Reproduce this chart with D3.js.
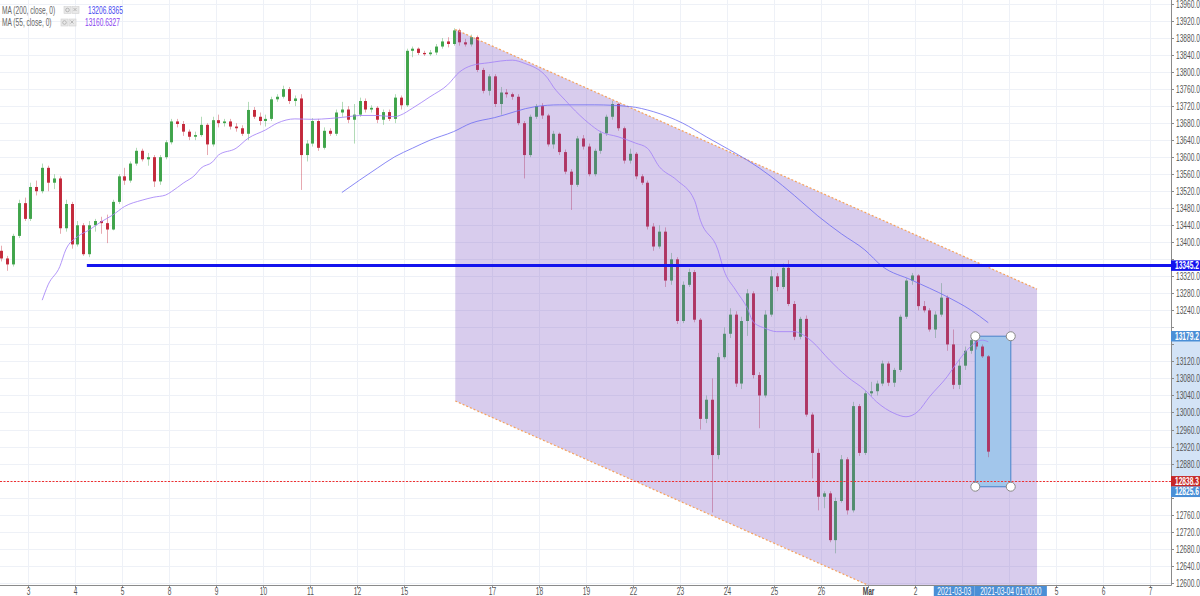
<!DOCTYPE html>
<html><head><meta charset="utf-8">
<script src="https://cdn.jsdelivr.net/npm/d3@7"></script>
<style>body{margin:0;background:#fff;overflow:hidden}svg{display:block}</style>
</head><body><svg id="c" width="1200" height="596"></svg>
<script>
// ---------- DATA ----------
// bar slots: 8 bars per trading session (3h bars); slot 0 = Feb 3 session start
const firstSlot = -5;
const bars = [ // [open, high, low, close]
[13380,13392,13355,13362],[13362,13368,13333,13348],[13348,13420,13343,13415],[13415,13500,13410,13492],[13492,13505,13450,13455],
[13455,13540,13450,13530],[13530,13545,13510,13520],[13520,13585,13515,13575],[13575,13580,13520,13540],[13540,13560,13525,13550],
[13550,13555,13420,13433],[13433,13500,13425,13490],[13490,13495,13385,13395],[13395,13450,13390,13440],[13440,13445,13368,13372],
[13372,13450,13365,13440],[13440,13455,13425,13450],[13450,13460,13420,13445],[13445,13465,13398,13430],[13430,13500,13428,13495],
[13495,13560,13490,13555],[13555,13575,13535,13545],[13545,13590,13540,13585],[13585,13622,13580,13615],[13615,13620,13590,13595],
[13595,13610,13580,13600],[13600,13605,13530,13543],[13543,13605,13535,13600],[13600,13640,13595,13635],[13635,13690,13630,13684],
[13684,13690,13670,13678],[13678,13685,13650,13660],[13660,13665,13640,13648],[13648,13660,13640,13652],[13652,13695,13648,13676],
[13676,13680,13605,13630],[13630,13695,13625,13687],[13687,13700,13670,13680],[13680,13690,13672,13684],[13684,13690,13665,13672],
[13672,13680,13660,13668],[13668,13675,13650,13655],[13655,13730,13640,13711],[13711,13718,13690,13695],[13695,13705,13675,13685],
[13685,13700,13672,13690],[13690,13742,13685,13736],[13736,13748,13730,13742],[13742,13768,13738,13760],[13760,13765,13725,13732],
[13732,13745,13720,13738],[13738,13748,13523,13605],[13605,13640,13590,13632],[13632,13692,13625,13685],[13685,13690,13615,13622],
[13622,13670,13618,13662],[13662,13668,13650,13655],[13655,13712,13650,13705],[13705,13730,13695,13712],[13712,13720,13680,13688],
[13688,13725,13632,13700],[13700,13740,13695,13732],[13732,13738,13705,13712],[13712,13722,13705,13716],[13716,13720,13680,13688],
[13688,13712,13676,13706],[13706,13712,13685,13690],[13690,13748,13680,13740],[13740,13745,13712,13722],[13722,13855,13718,13850],
[13850,13860,13835,13855],[13855,13858,13840,13845],[13845,13850,13838,13842],[13842,13852,13838,13846],[13846,13866,13840,13860],
[13860,13880,13855,13872],[13872,13882,13858,13866],[13866,13903,13862,13898],[13898,13902,13862,13870],[13870,13878,13860,13865],
[13865,13888,13860,13882],[13882,13886,13800,13805],[13805,13810,13750,13756],[13756,13795,13745,13790],[13790,13795,13718,13725],
[13725,13765,13700,13752],[13752,13760,13740,13748],[13748,13752,13735,13742],[13742,13748,13675,13680],[13680,13685,13550,13605],
[13605,13700,13600,13695],[13695,13725,13690,13720],[13720,13727,13690,13698],[13698,13702,13625,13630],[13630,13662,13620,13655],
[13655,13658,13605,13612],[13612,13618,13560,13566],[13566,13572,13476,13535],[13535,13650,13530,13644],[13644,13652,13618,13625],
[13625,13632,13555,13560],[13560,13620,13555,13615],[13615,13662,13608,13656],[13656,13700,13650,13695],[13695,13732,13688,13725],
[13725,13728,13662,13668],[13668,13672,13585,13592],[13592,13620,13585,13608],[13608,13612,13548,13555],[13555,13560,13535,13540],
[13540,13545,13430,13437],[13437,13445,13380,13390],[13390,13440,13385,13425],[13425,13435,13295,13310],[13310,13375,13300,13360],
[13360,13365,13208,13215],[13215,13308,13210,13300],[13300,13338,13295,13330],[13330,13335,13212,13218],[13218,13222,12960,12985],
[12985,13040,12975,13030],[13030,13080,12765,12900],[12900,13140,12890,13130],[13130,13200,13125,13185],[13185,13245,13175,13230],
[13230,13238,13060,13068],[13068,13225,13055,13215],[13215,13290,13180,13280],[13280,13285,13080,13088],[13088,13095,12963,13040],
[13040,13240,13035,13230],[13230,13335,13225,13320],[13320,13328,13285,13295],[13295,13350,13290,13340],[13340,13358,13250,13255],
[13255,13262,13170,13178],[13178,13225,13172,13220],[13220,13228,12990,12995],[12995,13000,12845,12905],[12905,12915,12770,12802],
[12802,12815,12775,12810],[12810,12815,12695,12700],[12700,12800,12669,12792],[12792,12900,12788,12890],[12890,12895,12760,12770],
[12770,13025,12765,13015],[13015,13020,12898,12905],[12905,13050,12900,13045],[13045,13072,13038,13050],[13050,13075,13040,13068],
[13068,13122,13062,13115],[13115,13120,13062,13070],[13070,13105,13060,13100],[13100,13230,13095,13225],[13225,13315,13220,13310],
[13310,13328,13300,13322],[13322,13325,13240,13250],[13250,13262,13235,13240],[13240,13245,13190,13195],[13195,13238,13175,13230],
[13230,13304,13225,13270],[13270,13275,13145,13160],[13160,13195,13055,13065],[13065,13125,13055,13110],[13110,13155,13100,13145],
[13145,13176,13138,13170],[13170,13179.2,13148,13155],[13155,13160,13128,13132],[13132,13135,12895,12908]
];
const ma55 = [[2,13264],[3,13300],[5,13343],[6,13382],[8,13413],[10,13429],[12,13448],[14,13464],[16,13484],[19,13499],[21,13506],
[23,13511],[24,13519],[26,13539],[28,13558],[29,13574],[31,13589],[32,13605],[35,13621],[37,13644],[40,13664],[42,13680],[45,13690],
[48,13689],[51,13691],[54,13695],[56,13698],[59,13698],[62,13695],[63,13699],[65,13715],[68,13742],[71,13770],[73,13800],[75,13815],
[78,13822],[82,13828],[84,13821],[88,13786],[89,13765],[91,13734],[92,13719],[95,13680],[97,13660],[100,13648],[103,13633],[105,13621],
[107,13578],[110,13546],[113,13499],[114,13452],[117,13382],[118,13335],[120,13288],[122,13245],[123,13213],[125,13198],[127,13190],
[130,13190],[131,13186],[133,13167],[136,13123],[139,13084],[142,13053],[144,13025],[147,12998],[149,12990],[151,13002],[153,13037],
[156,13084],[158,13123],[160,13155],[162,13170],[163,13166]];
const ma200 = [[53,13517],[56,13546],[59,13574],[62,13601],[65,13621],[68,13640],[72,13660],[75,13680],[79,13693],[86,13719],[90,13723],
[96,13723],[102,13719],[106,13707],[111,13680],[115,13648],[119,13617],[122,13593],[126,13555],[130,13510],[134,13462],[138,13420],
[142,13382],[145,13343],[150,13311],[156,13272],[160,13241],[163,13211]];
const priceTicks = d3.range(12600, 13961, 40);
const dayLabels = ["3","4","5","8","9","10","11","12","15","17","18","19","22","23","24","25","26","Mar","2","5","6","7"];
const daySlots  = [0,8,16,24,32,40,48,56,64,79,87,95,103,111,119,127,135,143,151,175,183,191];
const hiddenDaySlots = [159,167];
const supportLevel = 13345.2, supportFromSlot = 10.1;
const lastPrice = 12838.3;
const channelSlots = [72.8, 171.8];
const channelUpper = [13900, 13290];
const channelLower = [13027, 12417];
const rangeSlots = [161.3, 167.33];
const rangePrices = [13179.2, 12825.6];
const rangeDateLabels = ["2021-03-03", "2021-03-04 01:00:00"];
const legendNames = ["MA (200, close, 0)", "MA (55, close, 0)"];
const legendValues = ["13206.8365", "13160.6327"];

// ---------- SCALES ----------
const PR = 1171, PB = 585, SX = 0.66;
const svg = d3.select('#c');
const x = d3.scaleLinear().domain([-4.68, 194.6]).range([0, PR]);
const y = d3.scaleLinear().domain([12600, 13960]).range([582.7, 4]);
const FONT = "'Liberation Sans', Arial, sans-serif";
function txt(g, px, py, s, o = {}) {
  return g.append('text').attr('transform', `translate(${px},${py}) scale(${SX},1)`)
    .attr('text-anchor', o.anchor || 'start').attr('font-family', FONT)
    .attr('font-size', o.size || 10).attr('font-weight', o.weight || 'normal')
    .attr('fill', o.fill || '#555').text(s);
}
svg.append('defs').append('clipPath').attr('id', 'plot').append('rect')
  .attr('x', 0).attr('y', 0).attr('width', PR).attr('height', PB);

// grid
const grid = svg.append('g');
grid.selectAll('.h').data(priceTicks).join('line')
  .attr('x1', 0).attr('x2', PR).attr('y1', d => Math.round(y(d)) + .5).attr('y2', d => Math.round(y(d)) + .5)
  .attr('stroke', '#eef1f7');
grid.selectAll('.v').data(daySlots.concat(hiddenDaySlots)).join('line')
  .attr('y1', 0).attr('y2', PB).attr('x1', d => Math.round(x(d)) + .5).attr('x2', d => Math.round(x(d)) + .5)
  .attr('stroke', '#eef1f7');

const plot = svg.append('g').attr('clip-path', 'url(#plot)');
// date & price range fill (under the bars)
const rx0 = x(rangeSlots[0]), rx1 = x(rangeSlots[1]), ry0 = y(rangePrices[0]), ry1 = y(rangePrices[1]);
plot.append('rect').attr('x', rx0).attr('y', ry0).attr('width', rx1 - rx0).attr('height', ry1 - ry0)
  .attr('fill', 'rgb(178,246,252)');

// candles
const bw = (x(1) - x(0)) * 0.5;
const cg = plot.append('g');
const cd = bars.map((b, i) => ({ s: firstSlot + i, o: b[0], h: b[1], l: b[2], c: b[3] }));
const UP = '#3fa44a', DN = '#c3283a';
cg.selectAll('.w').data(cd).join('line')
  .attr('x1', d => Math.round(x(d.s + .5)) + .5).attr('x2', d => Math.round(x(d.s + .5)) + .5)
  .attr('y1', d => y(d.h)).attr('y2', d => y(d.l))
  .attr('stroke', d => d.c >= d.o ? UP : DN).attr('stroke-opacity', .4).attr('stroke-width', 1);
cg.selectAll('.b').data(cd).join('rect')
  .attr('x', d => Math.round(x(d.s + .5)) + .5 - bw / 2).attr('width', bw)
  .attr('y', d => y(Math.max(d.o, d.c))).attr('height', d => Math.max(1, Math.abs(y(d.o) - y(d.c))))
  .attr('fill', d => d.c >= d.o ? UP : DN);

// channel (semi-transparent, over the bars)
const chPoly = [[channelSlots[0], channelUpper[0]], [channelSlots[1], channelUpper[1]],
                [channelSlots[1], channelLower[1]], [channelSlots[0], channelLower[0]]];
plot.append('path').attr('d', 'M' + chPoly.map(p => [x(p[0]), y(p[1])].join(',')).join('L') + 'Z')
  .attr('fill', 'rgb(126,87,194)').attr('fill-opacity', .3);
[channelUpper, channelLower].forEach(ln => {
  plot.append('line').attr('x1', x(channelSlots[0])).attr('x2', x(channelSlots[1]))
    .attr('y1', y(ln[0])).attr('y2', y(ln[1]))
    .attr('stroke', '#f5a25d').attr('stroke-width', 1.2).attr('stroke-dasharray', '2,2');
});

// moving averages
const lineGen = d3.line().x(d => x(d[0] + .5)).y(d => y(d[1])).curve(d3.curveMonotoneX);
plot.append('path').attr('d', lineGen(ma200)).attr('fill', 'none').attr('stroke', '#6d6cf2').attr('stroke-opacity', .8).attr('stroke-width', 1);
plot.append('path').attr('d', lineGen(ma55)).attr('fill', 'none').attr('stroke', '#a584f7').attr('stroke-opacity', .85).attr('stroke-width', 1);

// support line
plot.append('line').attr('x1', x(supportFromSlot)).attr('x2', PR).attr('y1', y(supportLevel)).attr('y2', y(supportLevel))
  .attr('stroke', '#1414ee').attr('stroke-width', 3);
// last price line
plot.append('line').attr('x1', 0).attr('x2', PR).attr('y1', Math.round(y(lastPrice)) + .5).attr('y2', Math.round(y(lastPrice)) + .5)
  .attr('stroke', '#f03030').attr('stroke-width', 1).attr('stroke-dasharray', '2,1.5');

// range box outline + handles
plot.append('rect').attr('x', rx0).attr('y', ry0).attr('width', rx1 - rx0).attr('height', ry1 - ry0)
  .attr('fill', 'none').attr('stroke', '#5a8fd0').attr('stroke-width', 1.2);
[[rx0, ry0], [rx1, ry0], [rx0, ry1], [rx1, ry1]].forEach(p => {
  svg.append('circle').attr('cx', p[0]).attr('cy', p[1]).attr('r', 4.5).attr('fill', '#fff').attr('stroke', '#888').attr('stroke-width', 1);
});

// ---------- AXES ----------
const ax = svg.append('g');
ax.append('rect').attr('x', PR).attr('y', ry0).attr('width', 1200 - PR).attr('height', ry1 - ry0).attr('fill', '#d3e3f6');
ax.append('line').attr('x1', PR + .5).attr('x2', PR + .5).attr('y1', 0).attr('y2', PB + .5).attr('stroke', '#8a8a8a');
ax.append('line').attr('x1', 0).attr('x2', PR + .5).attr('y1', PB + .5).attr('y2', PB + .5).attr('stroke', '#8a8a8a');

// price tags (computed first so that covered tick labels can be skipped)
const TH = 10.5;
const tags = [
  { v: supportLevel, bg: '#1414ee' },
  { v: rangePrices[0], bg: '#4a8fd6' },
  { v: lastPrice, bg: '#c62828' },
  { v: rangePrices[1], bg: '#4a8fd6' }
].map(t => ({ ...t, py: y(t.v) })).sort((a, b) => a.py - b.py);
for (let i = 1; i < tags.length; i++) if (tags[i].py < tags[i - 1].py + TH) tags[i].py = tags[i - 1].py + TH;

priceTicks.forEach(v => {
  const py = Math.round(y(v)) + .5;
  ax.append('line').attr('x1', PR).attr('x2', PR + 3).attr('y1', py).attr('y2', py).attr('stroke', '#8a8a8a');
  if (tags.some(t => Math.abs(t.py - py) < 9.5)) return;
  txt(ax, PR + 5, py + 3.5, v.toFixed(1));
});
daySlots.forEach((s, i) => {
  const px = Math.round(x(s)) + .5;
  ax.append('line').attr('x1', px).attr('x2', px).attr('y1', PB).attr('y2', PB + 3).attr('stroke', '#8a8a8a');
  txt(ax, px, 595, dayLabels[i], { anchor: 'middle', weight: dayLabels[i] === 'Mar' ? 'bold' : 'normal', fill: dayLabels[i] === 'Mar' ? '#444' : '#555' });
});
tags.forEach(t => {
  ax.append('rect').attr('x', PR).attr('y', t.py - TH / 2).attr('width', 1200 - PR).attr('height', TH).attr('fill', t.bg);
  txt(ax, PR + 4, t.py + 3.5, t.v.toFixed(1), { fill: '#fff', weight: 'bold' });
});

// date tags
const dw = rangeDateLabels.map(s => s.length * 5.56 * SX * 0.95 + 6);
const d2c = rx1, d2l = d2c - dw[1] / 2;
const d1r = Math.min(d2l, rx0 + dw[0] / 2), d1l = d1r - dw[0];
ax.append('rect').attr('x', d1l).attr('y', PB + 1).attr('width', dw[0]).attr('height', 596 - PB - 1).attr('fill', '#4a8fd6');
ax.append('rect').attr('x', d2l).attr('y', PB + 1).attr('width', dw[1]).attr('height', 596 - PB - 1).attr('fill', '#4a8fd6');
txt(ax, (d1l + d1r) / 2, 595, rangeDateLabels[0], { anchor: 'middle', fill: '#fff' });
txt(ax, d2c, 595, rangeDateLabels[1], { anchor: 'middle', fill: '#fff' });

// legend
const lg = svg.append('g');
const legendColors = ['#4646f0', '#8a3ff0'];
[[10, 64, 88], [22.5, 61, 85]].forEach((p, i) => {
  txt(lg, 2, p[0] + 3.5, legendNames[i], { fill: '#666' });
  [0, 8].forEach(dx => {
    lg.append('rect').attr('x', p[1] + dx).attr('y', p[0] - 3.5).attr('width', 7).attr('height', 7)
      .attr('fill', '#e9e9e9').attr('stroke', '#d0d0d0').attr('stroke-width', .6);
  });
  lg.append('circle').attr('cx', p[1] + 3.5).attr('cy', p[0]).attr('r', 1.8).attr('fill', 'none').attr('stroke', '#aaa').attr('stroke-width', .8);
  lg.append('path').attr('d', `M${p[1] + 9.5},${p[0] - 2}l3,3m0,-3l-3,3`).attr('stroke', '#aaa').attr('stroke-width', .8);
  txt(lg, p[2], p[0] + 3.5, legendValues[i], { fill: legendColors[i] });
});
</script></body></html>
